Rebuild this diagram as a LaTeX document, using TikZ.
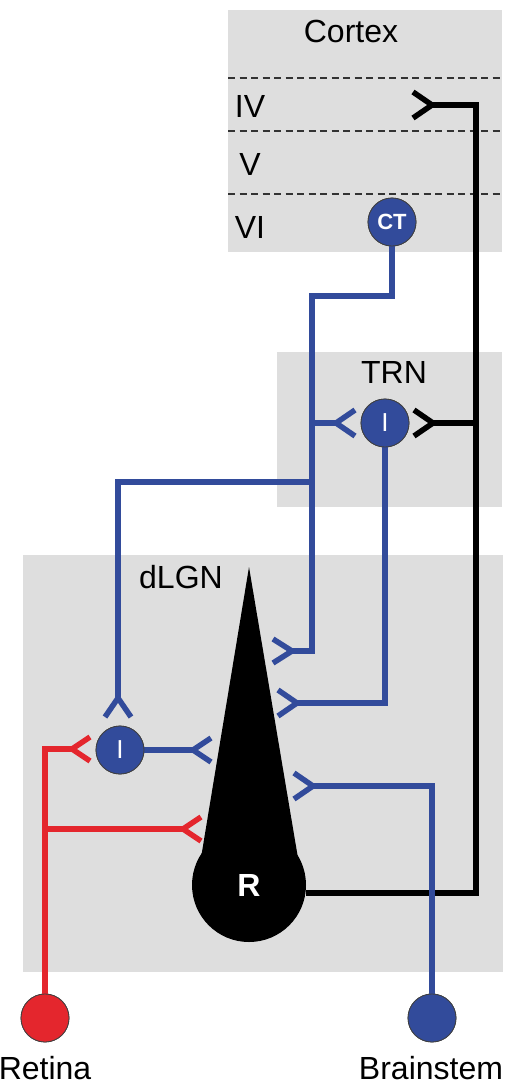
\documentclass[tikz,border=0pt]{standalone}
\usepackage{fontspec}
\setmainfont{Liberation Sans}
\definecolor{nblue}{RGB}{50,75,155}
\definecolor{nred}{RGB}{228,38,45}
\definecolor{boxgray}{RGB}{222,222,222}
\begin{document}
\begin{tikzpicture}[x=1pt,y=-1pt,
  ax/.style={line width=5.5pt, line join=miter, line cap=butt},
  bl/.style={ax, draw=nblue},
  bk/.style={ax, draw=black},
  rd/.style={ax, draw=nred},
  region/.style={fill=boxgray, draw=none},
  layerline/.style={draw=black!80, line width=1.8pt, dash pattern=on 7pt off 4.5pt},
  lab/.style={font=\fontsize{32}{38}\selectfont, anchor=base, inner sep=0pt},
  cell/.style={circle, draw=black!75, line width=0.8pt, minimum size=48pt, inner sep=0pt, text=white},
  bcell/.style={cell, fill=nblue},
  rcell/.style={cell, fill=nred},
  cttext/.style={font=\fontsize{22}{26}\selectfont\bfseries},
  itext/.style={font=\fontsize{26}{30}\selectfont},
]
\useasboundingbox (0,0) rectangle (510,1085);
% regions
\fill[region] (228,10) rectangle (502,252);
\fill[region] (277,352) rectangle (502,507);
\fill[region] (23,555) rectangle (503,972);
% cortical layers
\draw[layerline] (228,78) -- (502,78);
\draw[layerline] (228,131) -- (502,131);
\draw[layerline] (228,194) -- (502,194);
% labels
\node[lab] (lcortex) at (351,42) {Cortex};
\node[lab] (liv) at (250,117) {IV};
\node[lab] (lv) at (250,175) {V};
\node[lab] (lvi) at (250,238) {VI};
\node[lab] (ltrn) at (394,383) {TRN};
\node[lab] (llgn) at (181,588) {dLGN};
\node[lab] (lret) at (45,1079) {Retina};
\node[lab] (lbrain) at (431,1079) {Brainstem};
% cells
\node[bcell, cttext] (ct) at (392,222) {CT};
\node[bcell, itext] (trnI) at (385,423) {I};
\node[bcell, itext] (lgnI) at (120,750) {I};
\node[rcell] (retina) at (45,1018) {};
\node[bcell] (brain) at (432,1018) {};
% relay cell
\fill[black] (249,567) -- (199,870) -- (300,870) -- cycle;
\node[circle, fill=black, minimum size=114pt, inner sep=0pt, text=white,
  font=\fontsize{32}{36}\selectfont\bfseries] (R) at (249,885) {R};
% synapse apex points
\coordinate (s1) at (432,105);
\coordinate (s2) at (433,423);
\coordinate (s3) at (336,423);
\coordinate (s4) at (118,698);
\coordinate (s5) at (72,749);
\coordinate (s6) at (193,750);
\coordinate (s7) at (183,829);
\coordinate (s8) at (292,651);
\coordinate (s9) at (297,703);
\coordinate (s10) at (313,786);
% junctions
\coordinate (bc) at (476,105);
\coordinate (bj) at (476,423);
\coordinate (c1) at (312,296);
\coordinate (j1) at (312,423);
\coordinate (j2) at (312,482);
\coordinate (j3) at (45,829);
% black relay axon
\draw[bk] (R.-8) -| (bc) -- (s1);
\draw[bk] (bj) -- (s2);
\draw[bk] (s1) ++(-19,-13) -- (s1) -- ++(-19,13);
\draw[bk] (s2) ++(-19,-13) -- (s2) -- ++(-19,13);
% corticothalamic axon
\draw[bl] (ct.south) |- (c1) |- (s8);
\draw[bl] (j1) -- (s3);
\draw[bl] (j2) -| (s4);
\draw[bl] (s3) ++(19,-13) -- (s3) -- ++(19,13);
\draw[bl] (s4) ++(-13,19) -- (s4) -- ++(13,19);
\draw[bl] (s8) ++(-19,-12) -- (s8) -- ++(-19,12);
% TRN axon
\draw[bl] (trnI.south) |- (s9);
\draw[bl] (s9) ++(-19,-13) -- (s9) -- ++(-19,13);
% local interneuron
\draw[bl] (lgnI.east) -- (s6);
\draw[bl] (s6) ++(18,-12) -- (s6) -- ++(18,12);
% brainstem
\draw[bl] (brain.north) |- (s10);
\draw[bl] (s10) ++(-19,-13) -- (s10) -- ++(-19,13);
% retina
\draw[rd] (retina.north) |- (s5);
\draw[rd] (j3) -- (s7);
\draw[rd] (s5) ++(18,-12) -- (s5) -- ++(18,12);
\draw[rd] (s7) ++(18,-12) -- (s7) -- ++(18,12);
% cells drawn above the line ends
\node[bcell, cttext] at (ct) {CT};
\node[bcell, itext] at (trnI) {I};
\node[bcell, itext] at (lgnI) {I};
\node[rcell] at (retina) {};
\node[bcell] at (brain) {};
\end{tikzpicture}
\end{document}
